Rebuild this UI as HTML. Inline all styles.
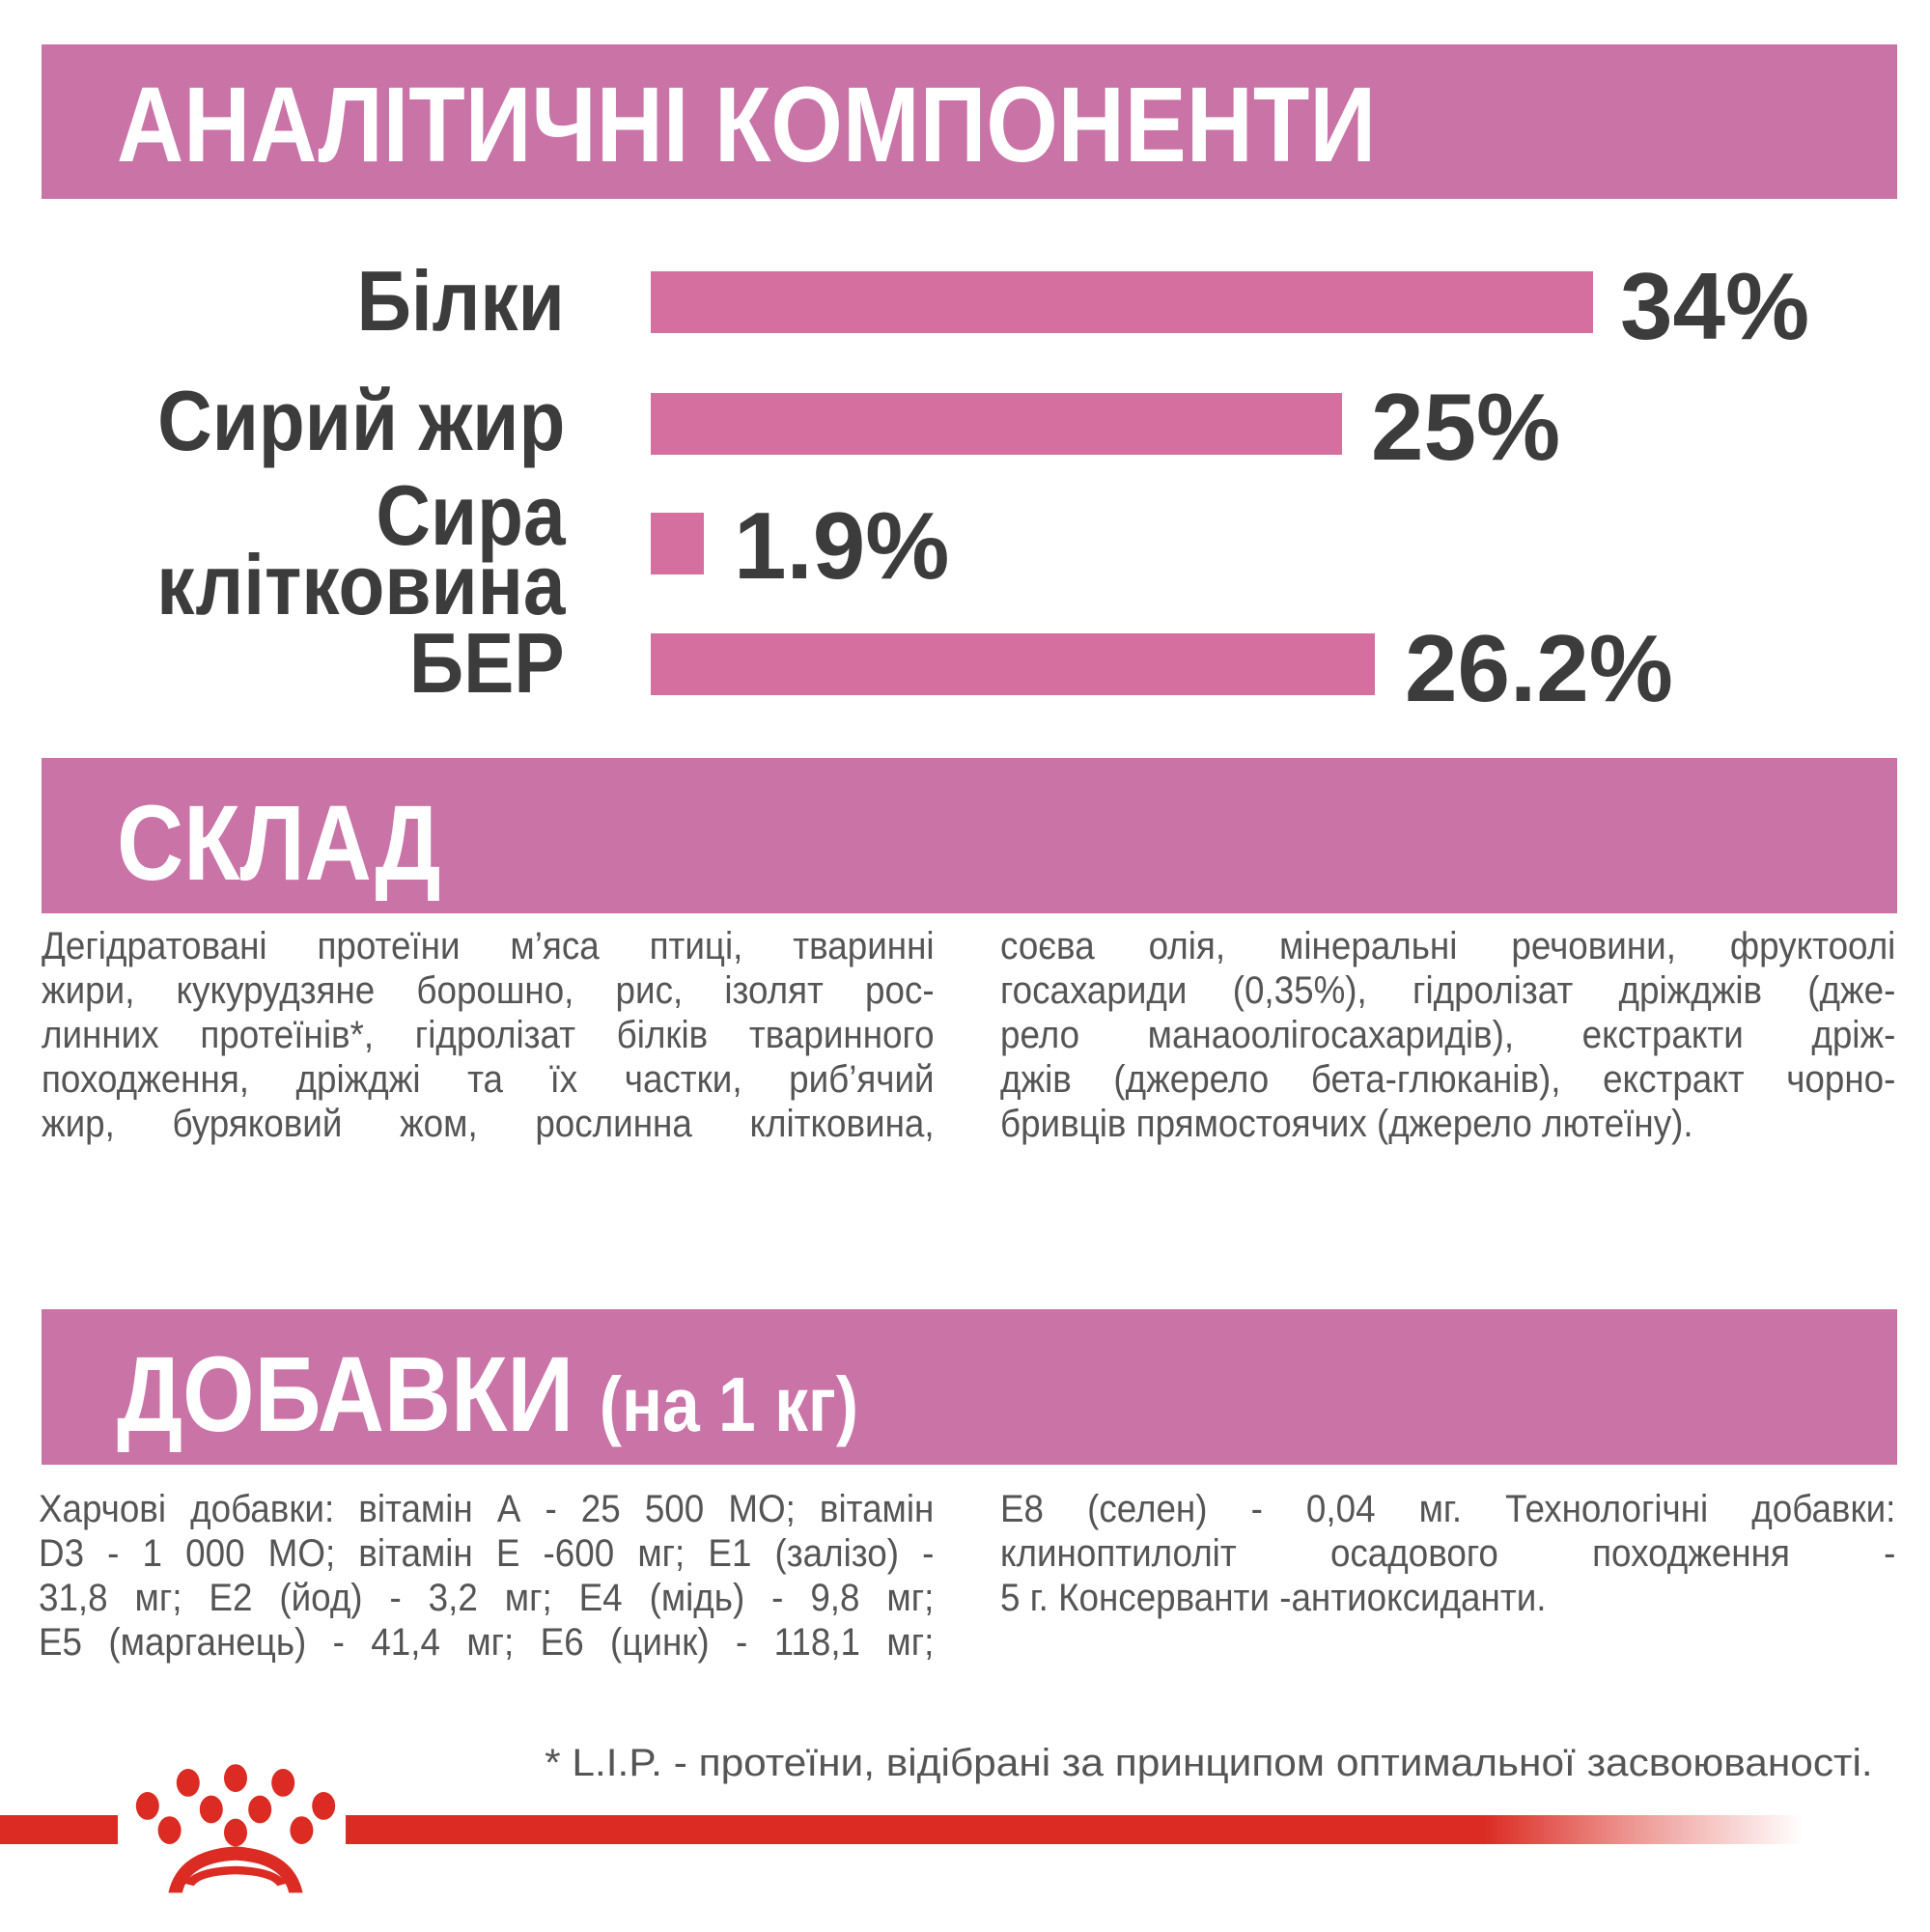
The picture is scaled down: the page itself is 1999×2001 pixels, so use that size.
<!DOCTYPE html>
<html><head><meta charset="utf-8"><style>
html,body{margin:0;padding:0;background:#fff;}
body{width:1999px;height:2001px;position:relative;overflow:hidden;font-family:"Liberation Sans","DejaVu Sans",sans-serif;}
.hdr{position:absolute;left:43px;width:1922px;background:#c973a7;}
.ht{position:absolute;left:121px;color:#fff;font-weight:bold;white-space:nowrap;transform-origin:left center;}
.bar{position:absolute;left:674px;background:#d46fa0;height:64px;}
.lab{position:absolute;right:1414px;color:#3c3c3c;font-weight:bold;font-size:88px;white-space:nowrap;transform:scaleX(0.89);transform-origin:right center;text-align:right;line-height:1;}
.val{position:absolute;color:#3c3c3c;font-weight:bold;font-size:98px;white-space:nowrap;line-height:1;}
.col{position:absolute;transform:scaleX(0.92);transform-origin:left top;color:#555;font-size:40px;line-height:46px;}
.col div{text-align:justify;text-align-last:justify;white-space:nowrap;}
.col div.l{text-align-last:left;}
</style></head><body>
<div class="hdr" style="top:46px;height:160px"></div>
<div class="ht" style="top:66px;font-size:110px;transform:scaleX(0.87)">АНАЛІТИЧНІ КОМПОНЕНТИ</div>

<div class="lab" style="top:268px">Білки</div>
<div class="bar" style="top:281px;width:976px"></div>
<div class="val" style="left:1678px;top:268px">34%</div>

<div class="lab" style="top:392px">Сирий жир</div>
<div class="bar" style="top:407px;width:716px"></div>
<div class="val" style="left:1420px;top:393px">25%</div>

<div class="lab" style="top:498px;line-height:72px">Сира<br>клітковина</div>
<div class="bar" style="top:531px;width:55px"></div>
<div class="val" style="left:760px;top:516px">1.9%</div>

<div class="lab" style="top:643px">БЕР</div>
<div class="bar" style="top:656px;width:750px"></div>
<div class="val" style="left:1455px;top:643px">26.2%</div>

<div class="hdr" style="top:785px;height:161px"></div>
<div class="ht" style="top:810px;font-size:110px;transform:scaleX(0.87)">СКЛАД</div>

<div class="col" style="left:43px;top:957px;width:1005px">
<div>Дегідратовані протеїни м’яса птиці, тваринні</div>
<div>жири, кукурудзяне борошно, рис, ізолят рос-</div>
<div>линних протеїнів*, гідролізат білків тваринного</div>
<div>походження, дріжджі та їх частки, риб’ячий</div>
<div>жир, буряковий жом, рослинна клітковина,</div>
</div>
<div class="col" style="left:1036px;top:957px;width:1008px">
<div>соєва олія, мінеральні речовини, фруктоолі</div>
<div>госахариди (0,35%), гідролізат дріжджів (дже-</div>
<div>рело манаоолігосахаридів), екстракти дріж-</div>
<div>джів (джерело бета-глюканів), екстракт чорно-</div>
<div class="l">бривців прямостоячих (джерело лютеїну).</div>
</div>

<div class="hdr" style="top:1356px;height:161px"></div>
<div class="ht" style="top:1381px;font-size:110px;transform:scaleX(0.87)">ДОБАВКИ <span style="font-size:80px">(на 1 кг)</span></div>

<div class="col" style="left:40px;top:1540px;width:1008px">
<div>Харчові добавки: вітамін А - 25 500 МО; вітамін</div>
<div>D3 - 1 000 МО; вітамін Е -600 мг; Е1 (залізо) -</div>
<div>31,8 мг; Е2 (йод) - 3,2 мг; Е4 (мідь) - 9,8 мг;</div>
<div>Е5 (марганець) - 41,4 мг; Е6 (цинк) - 118,1 мг;</div>
</div>
<div class="col" style="left:1036px;top:1540px;width:1008px">
<div>Е8 (селен) - 0,04 мг. Технологічні добавки:</div>
<div>клиноптилоліт осадового походження -</div>
<div class="l">5 г. Консерванти -антиоксиданти.</div>
</div>

<div style="position:absolute;right:59px;top:1803px;color:#555;font-size:40px;line-height:46px;white-space:nowrap;transform:scaleX(1.06);transform-origin:right top;">* L.I.P. - протеїни, відібрані за принципом оптимальної засвоюваності.</div>

<div style="position:absolute;left:0;top:1880px;width:122px;height:30px;background:#db2b22"></div>
<div style="position:absolute;left:358px;top:1880px;width:1510px;height:30px;background:linear-gradient(to right,#db2b22 0%,#db2b22 78%,rgba(219,43,34,0.5) 88%,rgba(219,43,34,0) 100%)"></div>
<svg style="position:absolute;left:112px;top:1826px" width="264" height="144" viewBox="0 0 220 120">
<g fill="#db2b22">
<ellipse cx="69" cy="17" rx="10" ry="12"/><ellipse cx="110" cy="13" rx="10" ry="12"/><ellipse cx="151" cy="17" rx="10" ry="12"/>
<ellipse cx="34" cy="37" rx="10" ry="12"/><ellipse cx="186" cy="37" rx="10" ry="12"/>
<ellipse cx="89" cy="40" rx="10" ry="12"/><ellipse cx="131" cy="40" rx="10" ry="12"/>
<ellipse cx="53" cy="58" rx="10" ry="12"/><ellipse cx="167" cy="58" rx="10" ry="12"/>
<ellipse cx="110" cy="60" rx="10" ry="12"/>
</g>
<path d="M52 112 Q60 75 110 72 Q160 75 168 112 L156 112 Q150 86 110 84 Q70 86 64 112Z" fill="#db2b22"/>
<path d="M66 104 Q74 90 110 89 Q146 90 154 104 L146 106 Q140 97 110 96 Q80 97 74 106Z" fill="#db2b22"/>
</svg>
</body></html>
